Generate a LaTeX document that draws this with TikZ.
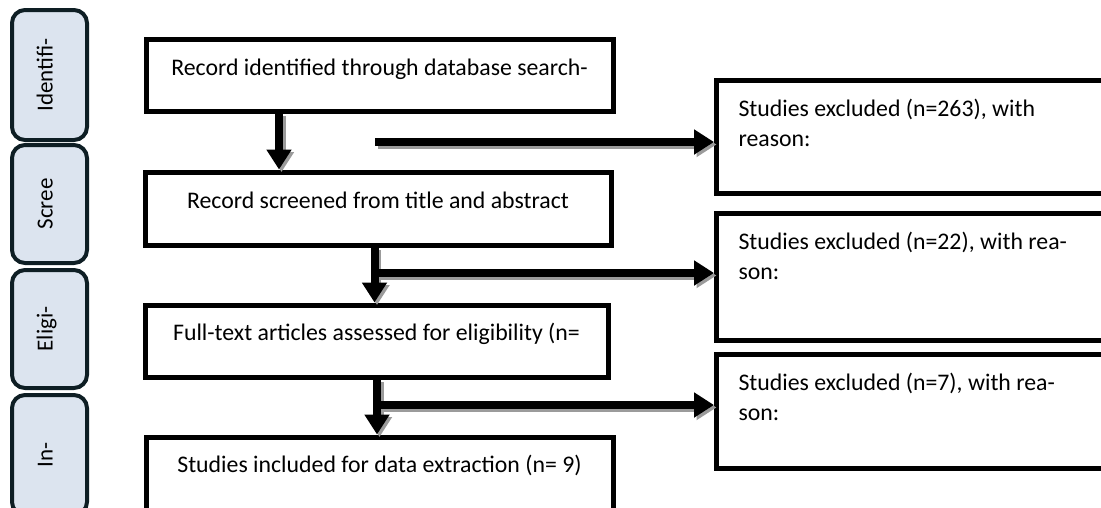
\documentclass[tikz,border=0pt]{standalone}
\usepackage{fontspec}
\setmainfont{Carlito}
\usetikzlibrary{arrows.meta}
\definecolor{tabfill}{RGB}{220,228,239}
\definecolor{tabdraw}{RGB}{14,30,36}
\definecolor{shadowgray}{RGB}{155,155,155}
\newcommand\prismaarrows[1]{%
  \draw[#1] (b1.south -| v1) -- (b2.north -| v1);
  \draw[#1] (h1s) -- (h1s -| r1.west);
  \draw[#1] (b2.south -| v2) -- (b3.north -| v2);
  \draw[#1] (j2) -- (j2 -| r2.west);
  \draw[#1] (b3.south -| v3) -- (b4.north -| v3);
  \draw[#1] (j3) -- (j3 -| r3.west);
}
\begin{document}
\frenchspacing
\begin{tikzpicture}[x=1pt,y=-1pt,
  tabbox/.style={draw=tabdraw, line width=4pt, fill=tabfill, rounded corners=13pt,
    rotate=90, minimum width=#1, minimum height=75pt, inner sep=0pt,
    font=\fontsize{23}{27}\selectfont, text height=16pt, text depth=10pt},
  mainbox/.style={draw=black, line width=5pt, fill=white, inner sep=0pt,
    font=\fontsize{23.8}{30}\selectfont},
  sidebox/.style={draw=black, line width=5pt, fill=white, anchor=north west,
    align=flush left, inner xsep=22pt, inner ysep=0pt, text width=362pt,
    minimum width=406pt, text height=36pt,
    font=\fontsize{23.8}{30}\selectfont\frenchspacing},
  arr/.style={line width=8pt, -{Triangle[length=20pt,width=24pt]}}
]
\useasboundingbox (0,0) rectangle (1101,507);
\clip (0,0) rectangle (1101,507);

% phase tabs
\node[tabbox=130pt] (t1) at (49.5,75) {Identifi-};
\node[tabbox=118pt] (t2) at (49.5,204) {Scree};
\node[tabbox=118pt] (t3) at (49.5,329) {Eligi-};
\node[tabbox=120pt] (t4) at (49.5,455) {In-};

% main boxes
\node[mainbox, minimum width=467pt, minimum height=72pt, text height=36pt, text depth=36pt]
  (b1) at (379.5,75) {Record identified through database search-};
\node[mainbox, minimum width=466pt, minimum height=73pt, text height=36pt, text depth=37pt]
  (b2) at (378,208.5) {Record screened from title and abstract};
\node[mainbox, minimum width=463pt, minimum height=72pt, text height=35pt, text depth=37pt]
  (b3) at (376.5,341) {Full-text articles assessed for eligibility (n=};
\node[mainbox, minimum width=467pt, minimum height=103pt, text height=35pt, text depth=68pt]
  (b4) at (379.5,488.5) {Studies included for data extraction (n= 9)};

% exclusion boxes
\node[sidebox, text depth=76.5pt] (r1) at (714,78)
  {Studies excluded (n=263), with\\reason:};
\node[sidebox, text depth=91pt] (r2) at (714,211)
  {Studies excluded (n=22), with rea-\\son:};
\node[sidebox, text depth=77.5pt] (r3) at (714,352)
  {Studies excluded (n=7), with rea-\\son:};

% connector positions
\coordinate (v1) at (279,0);
\coordinate (v2) at (374.5,0);
\coordinate (v3) at (377,0);
\coordinate (h1s) at (375,142);
\coordinate (j2) at (374.5,273);
\coordinate (j3) at (377,405);

\begin{scope}[transform canvas={shift={(2.5pt,-2.5pt)}}]
  \prismaarrows{arr, draw=shadowgray, fill=shadowgray}
\end{scope}
\prismaarrows{arr, draw=black, fill=black}
\end{tikzpicture}
\end{document}
